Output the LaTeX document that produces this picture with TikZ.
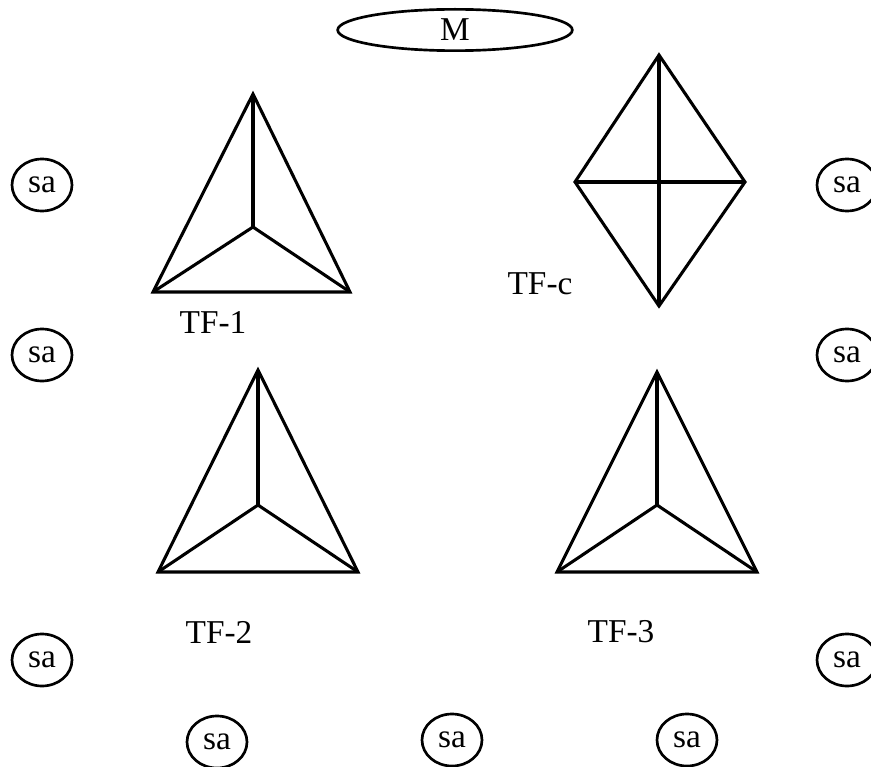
\documentclass[tikz,border=0pt]{standalone}
\usepackage{fontspec}
\setmainfont{Liberation Serif}
\usetikzlibrary{shapes.geometric}

\begin{document}
\begin{tikzpicture}[
  x=0.75pt,y=-0.75pt,
  every node/.style={font=\rmfamily\fontsize{25}{30}\selectfont},
  sa/.style={ellipse,draw,line width=2pt,minimum width=45pt,
             minimum height=39pt,inner sep=0pt},
  mod/.style={ellipse,draw,line width=2pt,minimum width=176pt,
              minimum height=31pt,inner sep=0pt},
  tf/.style={line width=2.3pt,line join=miter}]

  % --- page frame (right column of sa is cut by the edge)
  \useasboundingbox (0,0) rectangle (871,767);
  \clip (0,0) rectangle (871,767);

  % --- top node
  \node[mod] (m) at (455,30) {M};

  % --- sa nodes round the border
  \node[sa] (sa1) at (42,185) {sa};
  \node[sa] (sa2) at (42,355) {sa};
  \node[sa] (sa3) at (42,660) {sa};
  \node[sa] (sa4) at (847,185) {sa};
  \node[sa] (sa5) at (847,355) {sa};
  \node[sa] (sa6) at (847,660) {sa};
  \node[sa] (sa7) at (217,742) {sa};
  \node[sa] (sa8) at (452,740) {sa};
  \node[sa] (sa9) at (687,740) {sa};

  % --- TF-1: triangle with centre point
  \coordinate (t1a) at (253,94);
  \coordinate (t1l) at (153,292);
  \coordinate (t1r) at (350,292);
  \coordinate (t1c) at (253,227);
  \draw[tf] (t1a) -- (t1l) -- (t1r) -- cycle;
  \draw[tf] (t1a) -- (t1c);
  \draw[tf] (t1l) -- (t1c) -- (t1r);
  \node (tf1) at (213,322) {TF-1};

  % --- TF-c: diamond with cross
  \coordinate (tca) at (659,55);
  \coordinate (tcl) at (575,182);
  \coordinate (tcr) at (745,182);
  \coordinate (tcb) at (659,306);
  \draw[tf] (tca) -- (tcr) -- (tcb) -- (tcl) -- cycle;
  \draw[tf] (tca) -- (tcb);
  \draw[tf] (tcl) -- (tcr);
  \node (tfc) at (540,284) {TF-c};

  % --- TF-2
  \coordinate (t2a) at (258,370);
  \coordinate (t2l) at (158,572);
  \coordinate (t2r) at (358,572);
  \coordinate (t2c) at (258,505);
  \draw[tf] (t2a) -- (t2l) -- (t2r) -- cycle;
  \draw[tf] (t2a) -- (t2c);
  \draw[tf] (t2l) -- (t2c) -- (t2r);
  \node (tf2) at (219,632) {TF-2};

  % --- TF-3
  \coordinate (t3a) at (657,372);
  \coordinate (t3l) at (557,572);
  \coordinate (t3r) at (757,572);
  \coordinate (t3c) at (657,505);
  \draw[tf] (t3a) -- (t3l) -- (t3r) -- cycle;
  \draw[tf] (t3a) -- (t3c);
  \draw[tf] (t3l) -- (t3c) -- (t3r);
  \node (tf3) at (621,632) {TF-3};
\end{tikzpicture}
\end{document}
